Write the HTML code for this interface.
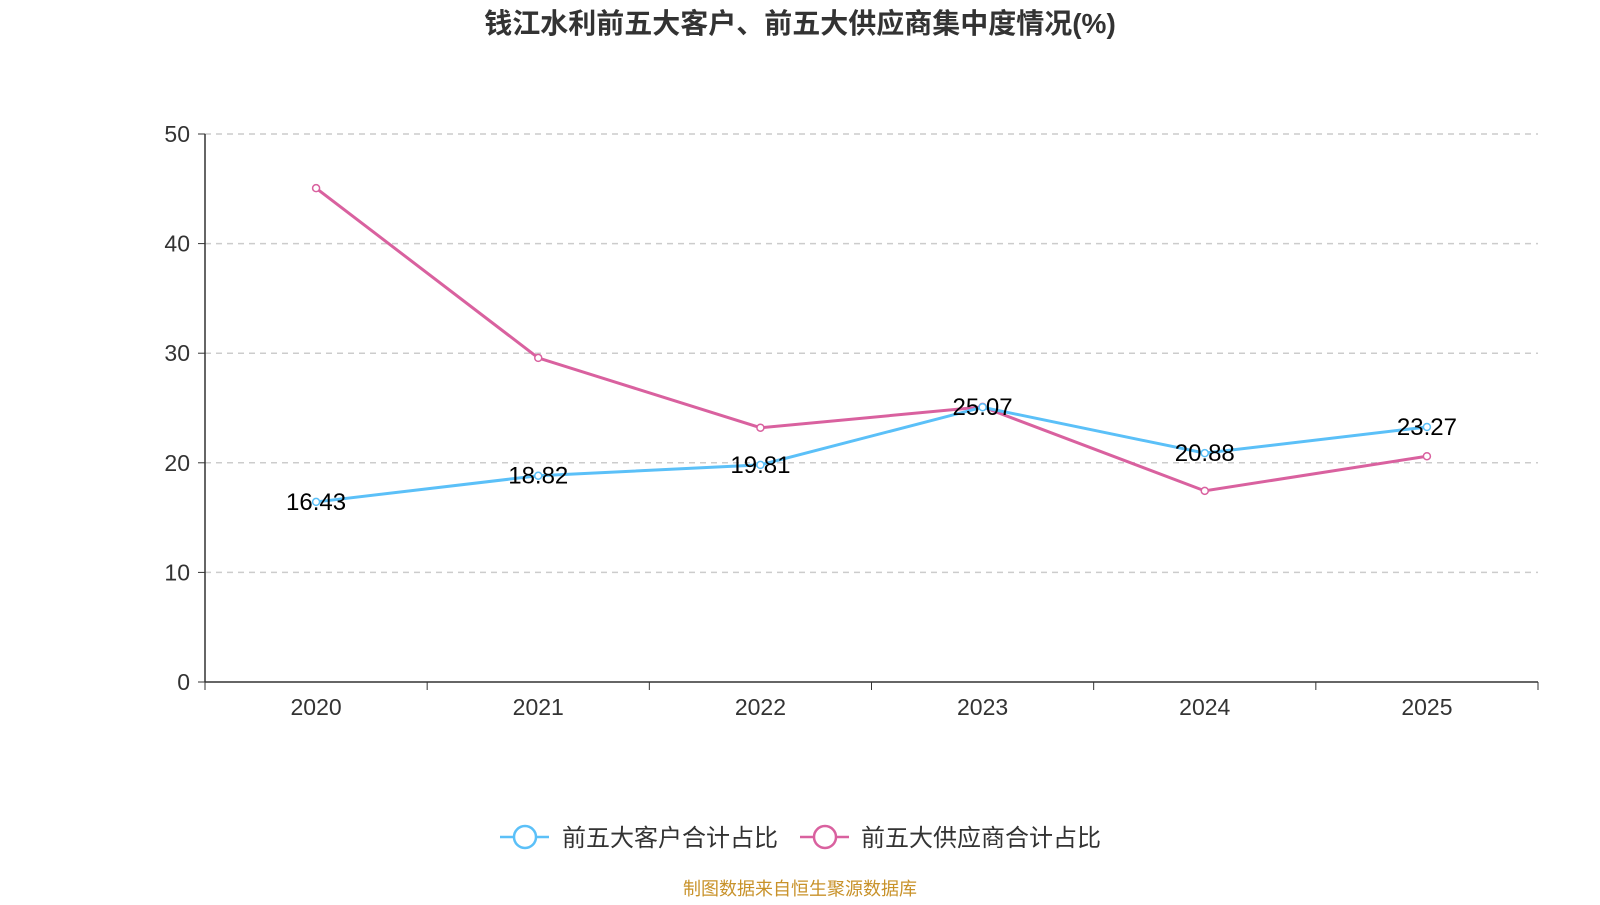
<!DOCTYPE html>
<html><head><meta charset="utf-8"><style>
body{margin:0;background:#fff;width:1600px;height:900px;overflow:hidden;font-family:"Liberation Sans","Noto Sans CJK SC",sans-serif;}
</style></head><body>
<svg id="c" width="1600" height="900" xmlns="http://www.w3.org/2000/svg">
<text x="800" y="33" text-anchor="middle" font-size="28" font-weight="bold" fill="#333" font-family="Liberation Sans,Noto Sans CJK SC,sans-serif">钱江水利前五大客户、前五大供应商集中度情况(%)</text>
<g id="grid"></g><g id="axes"></g><g id="series"></g>
<g font-size="24" fill="#333" font-family="Liberation Sans,Noto Sans CJK SC,sans-serif">
<g>
<line x1="500" y1="837" x2="549" y2="837" stroke="#5bc0f8" stroke-width="2.5"/><circle cx="525" cy="837" r="11" fill="#fff" stroke="#5bc0f8" stroke-width="2.5"/>
<text x="562" y="846">前五大客户合计占比</text></g>
<g>
<line x1="800" y1="837" x2="849" y2="837" stroke="#d9619f" stroke-width="2.5"/><circle cx="825" cy="837" r="11" fill="#fff" stroke="#d9619f" stroke-width="2.5"/>
<text x="861" y="846">前五大供应商合计占比</text></g>
</g>
<text x="800" y="895" text-anchor="middle" font-size="18" fill="#c8922a" font-family="Liberation Sans,Noto Sans CJK SC,sans-serif">制图数据来自恒生聚源数据库</text>
</svg>
<script>
const categories=["2020","2021","2022","2023","2024","2025"];
const customers=[16.43,18.82,19.81,25.07,20.88,23.27];
const suppliers=[45.06,29.57,23.2,25.1,17.44,20.6];
const yTicks=[0,10,20,30,40,50];
const NS="http://www.w3.org/2000/svg";
const x0=205,x1=1538,yb=682,yt=134,ymax=50;
const bw=(x1-x0)/categories.length;
const X=i=>x0+bw*(i+0.5);
const Y=v=>yb-(v/ymax)*(yb-yt);
function mk(p,tag,a){const e=document.createElementNS(NS,tag);for(const k in a)e.setAttribute(k,a[k]);p.appendChild(e);return e;}
const grid=document.getElementById('grid'),axes=document.getElementById('axes'),ser=document.getElementById('series');
yTicks.forEach(t=>{
 if(t>0){const l=mk(grid,'line',{x1:x0,x2:x1,y1:Y(t),y2:Y(t),stroke:'#ccc','stroke-dasharray':'6,5','stroke-width':1.5});
 
 }
 mk(axes,'line',{x1:x0-7,x2:x0,y1:Y(t),y2:Y(t),stroke:'#333'});
 const tx=mk(axes,'text',{x:x0-15,y:Y(t)+8,'text-anchor':'end','font-size':23,fill:'#333'});tx.textContent=t;
 
 
});
mk(axes,'line',{x1:x0,x2:x0,y1:yt,y2:yb,stroke:'#333','stroke-width':1.5});
mk(axes,'line',{x1:x0,x2:x1,y1:yb,y2:yb,stroke:'#333','stroke-width':1.5});
for(let i=0;i<=categories.length;i++)mk(axes,'line',{x1:x0+bw*i,x2:x0+bw*i,y1:yb,y2:yb+8,stroke:'#333'});
categories.forEach((c,i)=>{const t=mk(axes,'text',{x:X(i),y:yb+33,'text-anchor':'middle','font-size':23,fill:'#333'});t.textContent=c;
 
 });
function line(vals,color,name,labels){
 const g=mk(ser,'g',{});
 
 
 mk(g,'polyline',{points:vals.map((v,i)=>X(i)+','+Y(v)).join(' '),fill:'none',stroke:color,'stroke-width':3});
 vals.forEach((v,i)=>{const c=mk(g,'circle',{cx:X(i),cy:Y(v),r:3.5,fill:'#fff',stroke:color,'stroke-width':1.5});
  
  
  if(labels){const t=mk(g,'text',{x:X(i),y:Y(v)+8,'text-anchor':'middle','font-size':24,fill:'#000'});t.textContent=v.toFixed(2);
  
  }});
}
line(suppliers,'#d9619f','supplier-series',false);
line(customers,'#5bc0f8','customer-series',true);
</script>
</body></html>
